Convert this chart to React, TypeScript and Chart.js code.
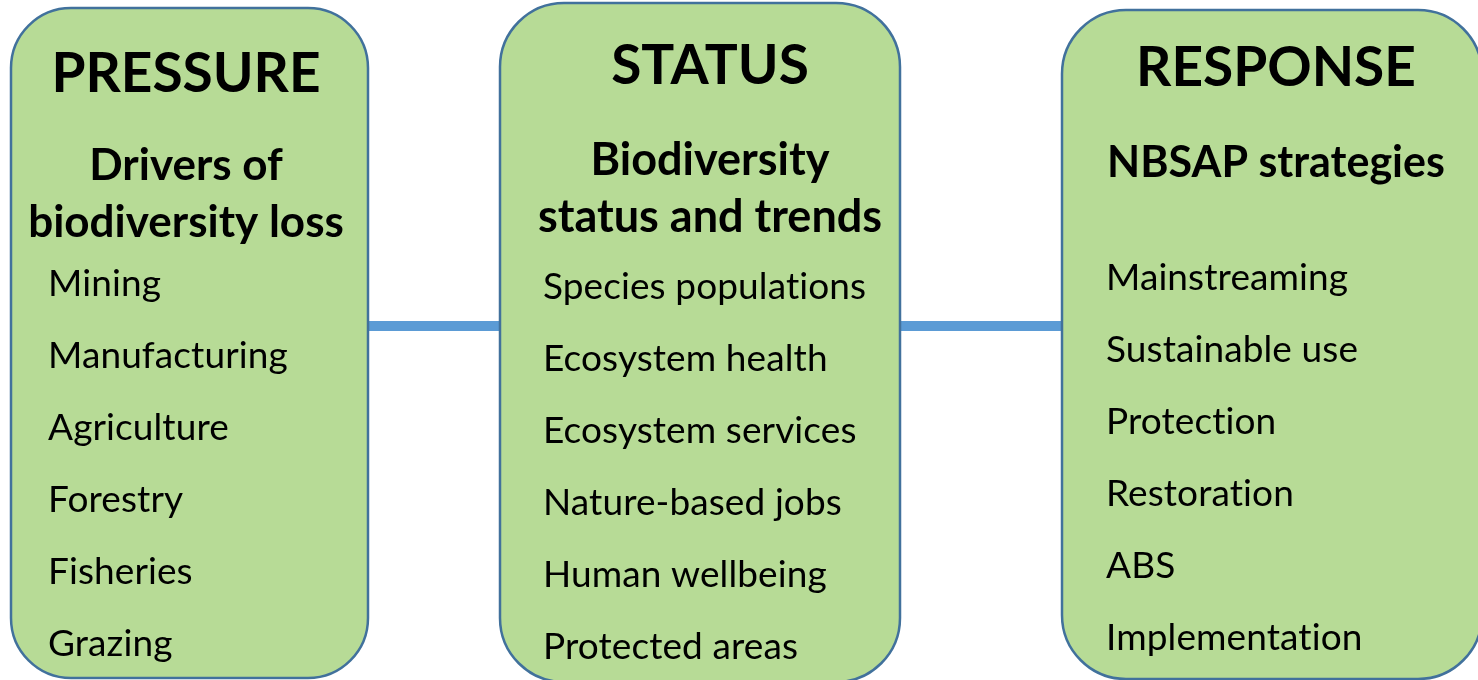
import React, { useEffect, useRef } from "react";
import { Chart, registerables } from "chart.js";

Chart.register(...registerables);

// ---- content ----
const titles = ["PRESSURE", "STATUS", "RESPONSE"];
const subtitles = [
  ["Drivers of", "biodiversity loss"],
  ["Biodiversity", "status and trends"],
  ["NBSAP strategies"],
];
const pressureItems = ["Mining", "Manufacturing", "Agriculture", "Forestry", "Fisheries", "Grazing"];
const statusItems = [
  "Species populations",
  "Ecosystem health",
  "Ecosystem services",
  "Nature-based jobs",
  "Human wellbeing",
  "Protected areas",
];
const responseItems = ["Mainstreaming", "Sustainable use", "Protection", "Restoration", "ABS", "Implementation"];
const itemLists = [pressureItems, statusItems, responseItems];

// ---- layout (data units == pixels on a 1478 x 680 plane) ----
const BOXES = [
  { x0: 11, x1: 368, y0: 8, y1: 678, r: 60, cx: 186, titleY: 92, subY: [180, 237], subSize: 44, itemX: 48, itemY0: 296 },
  { x0: 500, x1: 900, y0: 3, y1: 682, r: 64, cx: 710, titleY: 84, subY: [175, 232], subSize: 45, itemX: 543, itemY0: 299 },
  { x0: 1062, x1: 1482, y0: 10, y1: 679, r: 64, cx: 1276, titleY: 86, subY: [177], subSize: 43, itemX: 1106, itemY0: 290 },
];
const ITEM_STEP = 72;
const CONNECTOR_Y = 326;

const FILL = "#B7DB96";
const BORDER = "#41719C";
const LINK = "#5B9BD5";
const FONT = "Lato, 'Open Sans', sans-serif";

const diagramPlugin = {
  id: "diagram",
  afterDatasetsDraw(chart: any) {
    const { ctx, scales } = chart;
    const sx = scales.x, sy = scales.y;
    ctx.save();
    BOXES.forEach((b, i) => {
      const x0 = sx.getPixelForValue(b.x0);
      const x1 = sx.getPixelForValue(b.x1);
      const y0 = sy.getPixelForValue(b.y0);
      const y1 = sy.getPixelForValue(b.y1);
      ctx.beginPath();
      ctx.roundRect(x0, y0, x1 - x0, y1 - y0, b.r);
      ctx.fillStyle = FILL;
      ctx.fill();
      ctx.lineWidth = 2.5;
      ctx.strokeStyle = BORDER;
      ctx.stroke();

      ctx.fillStyle = "#000";
      ctx.textBaseline = "alphabetic";
      ctx.textAlign = "center";
      ctx.font = `bold 55px ${FONT}`;
      ctx.fillText(titles[i], sx.getPixelForValue(b.cx), sy.getPixelForValue(b.titleY));
      ctx.font = `bold ${b.subSize}px ${FONT}`;
      subtitles[i].forEach((s, k) => {
        ctx.fillText(s, sx.getPixelForValue(b.cx), sy.getPixelForValue(b.subY[k]));
      });
      ctx.textAlign = "left";
      ctx.font = `37px ${FONT}`;
      // a tiny letter spacing switches off the "ti" ligature of Lato
      (ctx as any).letterSpacing = "0.1px";
      itemLists[i].forEach((t, k) => {
        ctx.fillText(t, sx.getPixelForValue(b.itemX), sy.getPixelForValue(b.itemY0 + k * ITEM_STEP));
      });
      (ctx as any).letterSpacing = "0px";
    });
    ctx.restore();
  },
};

export default function App() {
  const ref = useRef<HTMLCanvasElement | null>(null);
  useEffect(() => {
    document.body.style.margin = "0";
    let chart: Chart | null = null;
    let cancelled = false;
    const make = () => {
      if (cancelled || !ref.current) return;
      chart = new Chart(ref.current, {
        type: "line",
        data: {
          datasets: [
            {
              data: [
                { x: BOXES[0].x1, y: CONNECTOR_Y },
                { x: BOXES[1].x0, y: CONNECTOR_Y },
              ],
              borderColor: LINK,
              borderWidth: 10,
              pointRadius: 0,
            },
            {
              data: [
                { x: BOXES[1].x1, y: CONNECTOR_Y },
                { x: BOXES[2].x0, y: CONNECTOR_Y },
              ],
              borderColor: LINK,
              borderWidth: 10,
              pointRadius: 0,
            },
          ],
        },
        options: {
          animation: false,
          responsive: false,
          maintainAspectRatio: false,
          layout: { padding: 0 },
          plugins: { legend: { display: false }, tooltip: { enabled: false }, title: { display: false } },
          scales: {
            x: { type: "linear", min: 0, max: 1478, display: false },
            y: { type: "linear", min: 0, max: 680, reverse: true, display: false },
          },
        },
        plugins: [diagramPlugin],
      } as any);
    };
    const fonts: any = (document as any).fonts;
    if (fonts && fonts.load) {
      Promise.all([fonts.load(`bold 55px Lato`), fonts.load(`37px Lato`)]).then(make, make);
    } else make();
    return () => {
      cancelled = true;
      if (chart) chart.destroy();
    };
  }, []);
  return (
    <div style={{ position: "fixed", left: 0, top: 0, width: 1478, height: 680, background: "#fff" }}>
      <canvas ref={ref} width={1478} height={680} style={{ width: 1478, height: 680, display: "block" }} />
    </div>
  );
}
